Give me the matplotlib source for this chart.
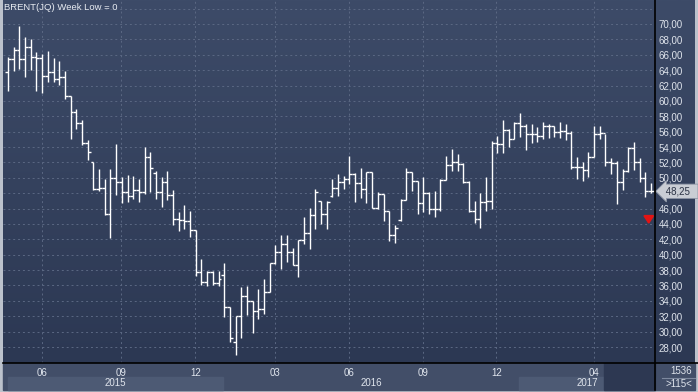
import numpy as np
import matplotlib.pyplot as plt
from matplotlib.colors import LinearSegmentedColormap
from matplotlib.patches import Rectangle
from matplotlib.lines import Line2D
import matplotlib.transforms as mtrans

# weekly OHLC, Brent
opens = [63.8, 65.4, 66.66, 65.45, 67.05, 65.66, 65.6, 63.2, 63.7, 62.85,
         63.06, 60.6, 58.6, 57.1, 54.5, 52.0, 48.5, 48.7, 45.3, 50.0,
         49.4, 48.1, 47.6, 48.4, 48.2, 52.65, 50.6, 48.1, 49.4, 47.7,
         44.6, 44.5, 44.4, 43.2, 37.8, 36.45, 37.8, 36.3, 37.4, 33.2,
         28.6, 32.0, 34.6, 34.0, 32.7, 32.9, 35.1, 38.95, 40.3, 41.4,
         40.3, 38.6, 41.9, 42.8, 45.1, 47.0, 45.3, 47.6, 48.7, 49.4,
         49.8, 50.5, 49.3, 48.5, 50.7, 46.1, 47.9, 45.7, 42.5, 44.5,
         47.1, 50.7, 49.6, 46.7, 48.0, 46.0, 45.9, 49.7, 51.7, 52.0,
         51.8, 49.4, 45.7, 44.6, 46.9, 47.0, 54.5, 54.4, 56.2, 55.1,
         57.1, 56.8, 55.7, 55.7, 55.5, 56.8, 56.7, 55.9, 56.1, 55.8,
         51.4, 51.4, 51.0, 52.7, 55.7, 55.8, 52.0, 51.9, 49.5, 50.9,
         53.9, 52.1, 50.0, 48.3]
highs = [65.7, 67.05, 69.8, 68.35, 68.1, 66.4, 66.1, 66.5, 65.6, 65.2,
         63.9, 60.7, 58.9, 57.5, 54.9, 52.1, 51.2, 49.8, 51.1, 54.4,
         50.05, 50.4, 50.3, 49.9, 54.0, 53.4, 50.9, 50.05, 50.9, 48.4,
         45.5, 46.5, 45.7, 43.2, 39.5, 37.9, 37.9, 37.9, 38.96, 33.2,
         32.0, 35.8, 35.9, 34.0, 35.6, 36.9, 38.95, 41.3, 42.6, 42.5,
         40.9, 41.9, 44.9, 46.1, 48.5, 47.0, 47.0, 49.8, 50.5, 50.3,
         52.9, 50.6, 51.3, 50.8, 50.7, 48.1, 47.9, 45.7, 43.8, 47.2,
         51.3, 50.7, 49.6, 50.05, 48.1, 48.3, 49.8, 52.9, 53.7, 53.1,
         51.9, 49.6, 47.0, 48.0, 50.05, 54.8, 55.5, 57.5, 56.3, 57.2,
         58.4, 57.0, 57.0, 56.6, 57.2, 57.0, 56.8, 57.3, 57.0, 56.1,
         52.7, 52.0, 53.3, 56.8, 56.7, 55.7, 52.6, 52.2, 51.1, 54.0,
         54.6, 52.6, 50.8, 49.3]
lows = [61.3, 63.9, 64.2, 63.06, 64.0, 61.3, 61.0, 62.5, 62.4, 62.1,
        60.2, 55.1, 56.4, 54.3, 52.3, 48.4, 48.3, 45.1, 42.2, 47.8,
        46.7, 46.9, 47.2, 46.9, 47.9, 48.1, 47.2, 46.2, 47.1, 43.8,
        43.1, 43.4, 42.3, 37.2, 36.1, 35.9, 36.1, 35.9, 31.96, 28.6,
        26.9, 29.2, 32.1, 29.8, 31.7, 32.3, 35.1, 38.8, 38.1, 39.0,
        38.6, 37.1, 41.4, 40.8, 43.3, 44.0, 43.3, 47.5, 47.6, 48.5,
        49.2, 46.9, 47.4, 46.7, 46.1, 45.9, 44.4, 41.8, 41.5, 44.4,
        47.1, 48.3, 45.3, 45.5, 45.3, 44.9, 45.7, 49.7, 50.9, 50.9,
        49.3, 45.5, 44.1, 43.5, 45.7, 45.9, 53.2, 53.2, 54.0, 55.0,
        55.3, 53.6, 54.5, 54.6, 55.0, 55.2, 55.3, 55.2, 54.9, 51.1,
        49.8, 49.6, 50.1, 52.7, 55.0, 51.6, 50.5, 46.6, 48.4, 50.8,
        51.0, 49.4, 47.5, 48.0]
closes = [65.4, 66.66, 65.45, 67.05, 65.66, 65.6, 63.2, 63.7, 62.85, 63.06,
          60.6, 58.6, 57.1, 54.5, 53.4, 48.5, 48.7, 45.3, 50.0, 49.4,
          48.1, 47.6, 48.4, 48.2, 52.65, 51.3, 48.1, 49.4, 47.7, 44.6,
          44.5, 44.4, 43.2, 37.8, 36.45, 37.8, 36.3, 36.9, 33.2, 29.2,
          32.0, 34.6, 34.0, 32.7, 32.9, 35.1, 38.95, 40.3, 41.4, 40.3,
          38.6, 41.9, 42.8, 45.1, 48.2, 45.3, 46.9, 48.7, 49.4, 49.8,
          50.5, 49.3, 48.5, 50.7, 46.1, 47.9, 45.7, 42.5, 43.5, 47.1,
          50.7, 49.6, 46.7, 48.0, 46.0, 45.9, 49.7, 51.7, 52.0, 51.8,
          49.4, 45.7, 44.6, 46.9, 47.0, 54.5, 54.4, 56.2, 55.1, 57.1,
          56.8, 55.7, 55.7, 55.5, 56.8, 56.7, 55.9, 56.1, 55.8, 51.4,
          51.4, 51.0, 52.7, 55.7, 55.8, 52.0, 51.9, 49.5, 50.9, 53.9,
          52.1, 50.0, 48.3, 48.25]

month_pos = [6, 19.9, 32.9, 47, 59.9, 72.9, 85.8, 102.9]
month_labels = ['06', '09', '12', '03', '06', '09', '12', '04']
years = ['2015', '2016', '2017']
year_from = [0, 37.8, 89.8]
year_to = [37.8, 89.8, 113.7]
scroll_from = 104.7
price_ticks = np.arange(28, 71, 2)
alert_level = 45.2

W, H = 698, 392
fig = plt.figure(figsize=(W / 100, H / 100), dpi=100)
fig.patch.set_facecolor('#bcc2cc')

def fx(px):
    return px / W

def fy(py):
    return 1 - py / H

# gradient background for plot + price scale
bg = fig.add_axes([fx(3), fy(363), fx(695) - fx(3), 363 / H])
cmap = LinearSegmentedColormap.from_list('bg', ['#3d4b68', '#2c3853'])
bg.imshow(np.linspace(0, 1, 256).reshape(-1, 1), aspect='auto', cmap=cmap,
          extent=[0, 1, 0, 1])
bg.set_axis_off()

# bottom time axis strip
fig.patches.append(Rectangle((fx(3), fy(390)), fx(695) - fx(3), 27 / H,
                             transform=fig.transFigure, color='#424e68', zorder=-1))

ax = fig.add_axes([fx(3), fy(363), 652 / W, 363 / H])
ax.set_facecolor('none')
ax.set_xlim(-0.88, 113.7)
ax.set_ylim(25.92, 73.12)

x = np.arange(len(closes))
ax.vlines(x, lows, highs, color='white', lw=1.0, zorder=3)
ax.hlines(opens, x - 0.5, x, color='white', lw=1.0, zorder=3)
ax.hlines(closes, x, x + 0.5, color='white', lw=1.0, zorder=3)

# the last-price tag hides the scale label under it
ax.set_yticks(price_ticks)
ax.set_yticklabels(['' if abs(v - closes[-1]) < 1 else f'{v:.2f}'.replace('.', ',')
                    for v in price_ticks])
ax.set_yticks([price_ticks[-1] + 2], minor=True)
ax.yaxis.tick_right()
ax.set_xticks(month_pos)
ax.set_xticklabels(month_labels)
ax.tick_params(axis='y', which='both', length=0, pad=2.5, labelcolor='#dfe4ec', labelsize=7)
ax.tick_params(axis='x', length=0, pad=3.5, labelcolor='#dfe4ec', labelsize=7)
for lab in ax.get_xticklabels() + ax.get_yticklabels():
    lab.set_family('Liberation Sans')
ax.grid(which='both', color='#5b6883', linestyle=(0, (2, 3)), linewidth=0.7)
for s in ax.spines.values():
    s.set_visible(False)

# year bands
tr = mtrans.blended_transform_factory(ax.transData, fig.transFigure)
for i, (yr, a, b) in enumerate(zip(years, year_from, year_to)):
    if i % 2 == 0:
        ax.add_patch(Rectangle((a, fy(390)), b - a, 13 / H, transform=tr,
                               color='#4d5a74', clip_on=False, zorder=0))
    ax.text((a + b) / 2, fy(383.5), yr, transform=tr, ha='center', va='center',
            color='#dfe4ec', fontsize=7, family='Liberation Sans', clip_on=False)
ax.add_patch(Rectangle((scroll_from, fy(390)), 113.7 - scroll_from, 27 / H,
                       transform=tr, color='#2d3852', clip_on=False, zorder=0.5))

# separators
fig.lines.append(Line2D([fx(655), fx(655)], [fy(0), fy(390)], transform=fig.transFigure,
                        color='black', lw=1.2))
fig.lines.append(Line2D([fx(3), fx(698)], [fy(363), fy(363)], transform=fig.transFigure,
                        color='black', lw=1.2))
fig.lines.append(Line2D([fx(662), fx(695)], [fy(377.5), fy(377.5)], transform=fig.transFigure,
                        color='#7d889e', lw=0.8))
fig.text(fx(692), fy(370.5), '1536', ha='right', va='center', color='#dfe4ec',
         fontsize=7, family='Liberation Sans')
fig.text(fx(692), fy(384), '>115<', ha='right', va='center', color='#dfe4ec',
         fontsize=7, family='Liberation Sans')

# title
fig.text(fx(4), fy(8), 'BRENT(JQ) Week Low = 0', ha='left', va='center',
         color='#e8ecf2', fontsize=6.8, family='Liberation Sans')

# last price tag
ty = mtrans.blended_transform_factory(ax.transAxes, ax.transData)
ax.text(1.013, closes[-1], ' ' + f'{closes[-1]:.2f}'.replace('.', ',') + '  ',
        transform=ty, ha='left', va='center', color='#2b3345', fontsize=7,
        family='Liberation Sans',
        bbox=dict(boxstyle='larrow,pad=0.22', fc='#c9cdd4', ec='#8d96a6', lw=0.6),
        clip_on=False, zorder=5)

# red alert arrow
ax.annotate('', xy=(x[-1] - 0.4, alert_level - 1.6), xytext=(x[-1] - 0.4, alert_level),
            arrowprops=dict(arrowstyle='-|>,head_width=0.3,head_length=0.45',
                            color='#e31414', lw=1.6, mutation_scale=10))

fig.savefig('out.png', dpi=100, facecolor=fig.get_facecolor())
